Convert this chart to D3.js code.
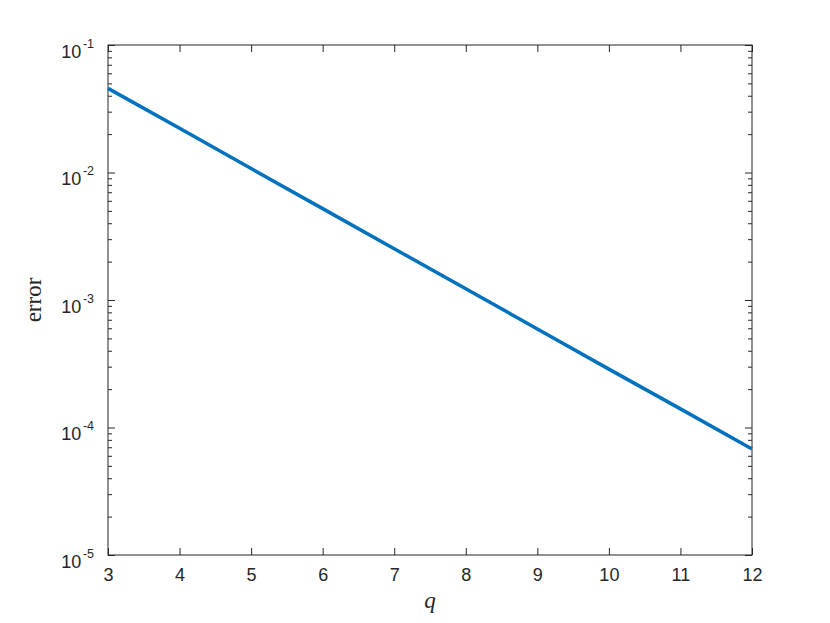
<!DOCTYPE html>
<html>
<head>
<meta charset="utf-8">
<script src="https://cdn.jsdelivr.net/npm/d3@7"></script>
<style>
  body { margin: 0; background: #fff; }
  svg { display: block; }
  .tick text { font-family: "Liberation Sans", Arial, sans-serif; fill: #262626; }
  .tick line { stroke: #262626; }
</style>
</head>
<body>
<svg></svg>
<script>
var width = 830;
var height = 623;
var margin = { top: 45, right: 78, bottom: 68, left: 108 };
var plotW = width - margin.left - margin.right;
var plotH = height - margin.top - margin.bottom;

// error against q
var qValues = [3, 4, 5, 6, 7, 8, 9, 10, 11, 12];
var errValues = [0.0457, 0.0222, 0.01074, 0.00521, 0.002525, 0.001224, 0.000593, 0.000287, 0.000140, 0.0000678];

var xTicks = [3, 4, 5, 6, 7, 8, 9, 10, 11, 12];
var yTickExps = [-5, -4, -3, -2, -1];

var ink = "#262626";

var svg = d3.select("svg")
  .attr("width", width)
  .attr("height", height);

var g = svg.append("g")
  .attr("transform", "translate(" + margin.left + "," + margin.top + ")");

var x = d3.scaleLinear().domain([3, 12]).range([0, plotW]);
var y = d3.scaleLog().domain([1e-5, 1e-1]).range([plotH, 0]);

var yMajor = yTickExps.map(function (e) { return Math.pow(10, e); });
var yMinor = [];
yTickExps.slice(0, -1).forEach(function (e) {
  for (var k = 2; k <= 9; k++) yMinor.push(k * Math.pow(10, e));
});

// bottom + top x axis (ticks point inward)
var xb = g.append("g")
  .attr("transform", "translate(0," + plotH + ")")
  .call(d3.axisBottom(x).tickValues(xTicks).tickSizeInner(-7).tickSizeOuter(0).tickPadding(13)
    .tickFormat(d3.format("d")));
xb.selectAll("text").style("font-size", "18px");

g.append("g")
  .call(d3.axisTop(x).tickValues(xTicks).tickSizeInner(-7).tickSizeOuter(0).tickFormat(""));

// left y axis, major with labels like 10^-3
var yl = g.append("g")
  .call(d3.axisLeft(y).tickValues(yMajor).tickSizeInner(-7).tickSizeOuter(0).tickPadding(14)
    .tickFormat(""));
yl.selectAll(".tick text")
  .attr("dy", "12px")
  .style("font-size", "18px")
  .each(function (d) {
    var t = d3.select(this);
    t.text(null);
    t.append("tspan").text("10");
    t.append("tspan").attr("dx", "1.5px").attr("dy", "-10px").style("font-size", "12.5px")
      .text("-" + Math.abs(Math.round(Math.log10(d))));
  });
g.append("g")
  .call(d3.axisLeft(y).tickValues(yMinor).tickSizeInner(-4).tickSizeOuter(0).tickFormat(""));

// right y axis
var yr = g.append("g").attr("transform", "translate(" + plotW + ",0)");
yr.append("g")
  .call(d3.axisRight(y).tickValues(yMajor).tickSizeInner(-7).tickSizeOuter(0).tickFormat(""));
yr.append("g")
  .call(d3.axisRight(y).tickValues(yMinor).tickSizeInner(-4).tickSizeOuter(0).tickFormat(""));

g.selectAll(".domain").remove();

// box
g.append("rect")
  .attr("width", plotW)
  .attr("height", plotH)
  .attr("fill", "none")
  .attr("stroke", ink)
  .attr("stroke-width", 1);

// the series
var line = d3.line()
  .x(function (d, i) { return x(qValues[i]); })
  .y(function (d) { return y(d); });

g.append("path")
  .datum(errValues)
  .attr("d", line)
  .attr("fill", "none")
  .attr("stroke", "#0072BD")
  .attr("stroke-width", 3.5);

// axis labels
svg.append("text")
  .attr("x", margin.left + plotW / 2)
  .attr("y", 608)
  .attr("text-anchor", "middle")
  .style("font-family", "'Liberation Serif', serif")
  .style("font-style", "italic")
  .style("font-size", "23px")
  .style("fill", ink)
  .text("q");

svg.append("text")
  .attr("transform", "translate(41," + (margin.top + plotH / 2) + ") rotate(-90)")
  .attr("text-anchor", "middle")
  .style("font-family", "'Liberation Serif', serif")
  .style("font-size", "23px")
  .style("fill", ink)
  .text("error");
</script>
</body>
</html>
